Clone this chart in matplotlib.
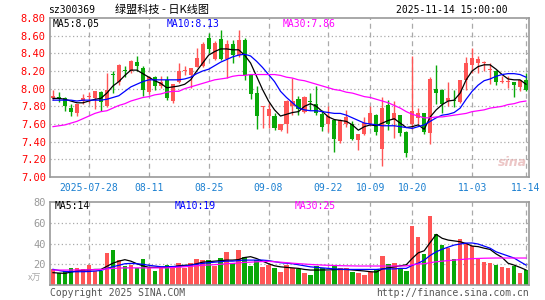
import matplotlib
matplotlib.use('Agg')
import matplotlib.pyplot as plt
import numpy as np

plt.rcParams['font.family'] = ['DejaVu Sans Mono', 'Noto Sans CJK SC']

# daily OHLC, 2025-07-18 .. 2025-11-14
opens = [7.89, 7.90, 7.90, 7.78, 7.72, 7.86, 7.91, 7.90, 7.96, 7.80,
         8.16, 8.07, 8.21, 8.20, 8.30, 8.23, 7.96, 8.13, 8.03, 8.10,
         7.86, 8.08, 8.20, 8.16, 8.25, 8.26, 8.57, 8.34, 8.56, 8.34,
         8.51, 8.38, 8.55, 8.15, 7.95, 7.79, 7.69, 7.69, 7.53, 7.60,
         7.80, 7.88, 7.74, 7.86, 7.83, 7.71, 7.60, 7.65, 7.41, 7.60,
         7.60, 7.42, 7.49, 7.60, 7.70, 7.32, 7.81, 7.64, 7.70, 7.51,
         7.60, 7.67, 7.72, 7.50, 8.00, 7.99, 7.86, 7.87, 7.85, 8.10,
         8.27, 8.29, 8.29, 8.21, 8.20, 8.08, 8.08, 8.07, 8.02, 8.10]
highs = [7.99, 7.96, 7.91, 7.83, 7.83, 7.94, 7.96, 7.97, 7.97, 8.18,
         8.20, 8.28, 8.26, 8.33, 8.37, 8.26, 8.14, 8.14, 8.14, 8.14,
         8.05, 8.29, 8.26, 8.23, 8.46, 8.53, 8.63, 8.54, 8.66, 8.55,
         8.55, 8.66, 8.57, 8.16, 8.03, 7.80, 7.84, 7.72, 7.60, 7.87,
         8.12, 7.92, 7.92, 7.95, 8.03, 7.76, 7.80, 7.66, 7.66, 7.76,
         7.63, 7.49, 7.68, 7.80, 7.71, 7.91, 7.87, 7.86, 7.70, 7.52,
         8.37, 7.78, 7.73, 8.13, 8.27, 8.00, 8.07, 7.99, 8.10, 8.36,
         8.46, 8.37, 8.31, 8.29, 8.21, 8.14, 8.14, 8.08, 8.10, 8.18]
lows = [7.87, 7.85, 7.75, 7.69, 7.69, 7.83, 7.84, 7.77, 7.75, 7.79,
        7.95, 8.04, 8.13, 8.18, 8.20, 7.92, 7.94, 7.98, 8.01, 7.87,
        7.84, 8.06, 8.15, 8.01, 8.25, 8.25, 8.40, 8.32, 8.33, 8.12,
        8.29, 8.36, 8.10, 7.88, 7.54, 7.56, 7.55, 7.53, 7.52, 7.50,
        7.70, 7.70, 7.73, 7.76, 7.70, 7.52, 7.51, 7.28, 7.38, 7.57,
        7.42, 7.31, 7.48, 7.58, 7.47, 7.13, 7.53, 7.44, 7.46, 7.23,
        7.54, 7.60, 7.49, 7.37, 7.83, 7.72, 7.80, 7.79, 7.84, 7.99,
        8.18, 8.18, 8.20, 8.05, 8.04, 8.06, 8.01, 7.91, 7.97, 7.97]
closes = [7.92, 7.89, 7.80, 7.74, 7.83, 7.90, 7.92, 7.97, 7.85, 7.99,
          8.15, 8.27, 8.20, 8.31, 8.26, 7.98, 8.13, 8.03, 8.07, 7.89,
          8.05, 8.20, 8.21, 8.23, 8.35, 8.51, 8.45, 8.52, 8.34, 8.51,
          8.38, 8.55, 8.16, 7.94, 7.69, 7.80, 7.77, 7.55, 7.60, 7.86,
          7.86, 7.77, 7.90, 7.85, 7.73, 7.57, 7.69, 7.43, 7.65, 7.68,
          7.43, 7.49, 7.61, 7.72, 7.51, 7.78, 7.60, 7.72, 7.50, 7.27,
          7.75, 7.72, 7.51, 8.11, 7.95, 7.83, 7.90, 7.86, 8.10, 8.29,
          8.35, 8.34, 8.30, 8.22, 8.08, 8.09, 8.09, 8.04, 8.10, 7.98]

ma5 = [7.89, 7.89, 7.88, 7.86, 7.84, 7.84, 7.86, 7.88, 7.89, 7.95,
       8.03, 8.08, 8.15, 8.21, 8.21, 8.17, 8.13, 8.09, 8.06, 8.01,
       8.02, 8.03, 8.05, 8.10, 8.20, 8.29, 8.38, 8.42, 8.45, 8.45,
       8.44, 8.44, 8.38, 8.29, 8.14, 7.99, 7.86, 7.76, 7.69, 7.71,
       7.73, 7.74, 7.80, 7.83, 7.80, 7.74, 7.68, 7.65, 7.64, 7.63,
       7.59, 7.53, 7.57, 7.59, 7.58, 7.61, 7.64, 7.66, 7.61, 7.56,
       7.57, 7.59, 7.54, 7.68, 7.76, 7.82, 7.86, 7.87, 7.95, 8.10,
       8.20, 8.25, 8.27, 8.27, 8.22, 8.16, 8.11, 8.10, 8.10, 8.05]
ma10 = [7.87, 7.87, 7.87, 7.87, 7.86, 7.87, 7.87, 7.87, 7.87, 7.88,
        7.90, 7.92, 7.97, 8.02, 8.05, 8.08, 8.10, 8.10, 8.10, 8.10,
        8.10, 8.10, 8.11, 8.13, 8.17, 8.20, 8.22, 8.26, 8.30, 8.33,
        8.36, 8.38, 8.39, 8.37, 8.31, 8.24, 8.16, 8.08, 7.97, 7.90,
        7.84, 7.78, 7.76, 7.75, 7.75, 7.74, 7.73, 7.72, 7.72, 7.70,
        7.67, 7.64, 7.61, 7.60, 7.59, 7.58, 7.58, 7.58, 7.57, 7.56,
        7.55, 7.57, 7.59, 7.63, 7.67, 7.70, 7.71, 7.73, 7.78, 7.88,
        7.97, 8.04, 8.09, 8.11, 8.14, 8.16, 8.17, 8.17, 8.16, 8.13]
ma30 = [7.57, 7.58, 7.59, 7.61, 7.63, 7.66, 7.69, 7.72, 7.74, 7.75,
        7.78, 7.81, 7.83, 7.86, 7.88, 7.90, 7.91, 7.93, 7.94, 7.96,
        7.97, 7.97, 8.00, 8.02, 8.04, 8.06, 8.08, 8.10, 8.11, 8.12,
        8.14, 8.15, 8.15, 8.16, 8.16, 8.16, 8.16, 8.16, 8.15, 8.13,
        8.12, 8.10, 8.09, 8.07, 8.05, 8.03, 8.01, 7.99, 7.98, 7.96,
        7.95, 7.93, 7.91, 7.90, 7.88, 7.86, 7.84, 7.81, 7.78, 7.74,
        7.71, 7.69, 7.67, 7.67, 7.68, 7.68, 7.69, 7.70, 7.71, 7.72,
        7.74, 7.75, 7.76, 7.78, 7.79, 7.80, 7.82, 7.83, 7.85, 7.86]

# volume in 10k lots
volume = [15.1, 11.2, 13.8, 16.7, 16.0, 15.1, 19.2, 13.8, 13.8, 30.8,
          33.7, 24.0, 18.3, 19.2, 16.0, 25.0, 16.0, 13.5, 17.0, 19.2,
          16.0, 20.8, 16.0, 20.8, 25.0, 24.0, 24.0, 18.3, 26.0, 32.1,
          20.8, 33.7, 27.3, 18.3, 24.0, 17.6, 19.2, 16.7, 12.8, 19.2,
          16.0, 15.1, 11.9, 9.6, 18.3, 16.7, 13.8, 18.6, 16.0, 16.0,
          12.8, 11.9, 9.6, 12.8, 15.1, 27.9, 20.2, 21.5, 16.0, 13.8,
          57.1, 46.5, 29.8, 66.7, 48.8, 38.5, 35.9, 25.0, 44.3, 40.7,
          37.5, 26.3, 22.4, 21.5, 19.2, 17.0, 16.0, 18.3, 11.2, 14.4]
vol_ma5 = [11.9, 11.5, 11.2, 12.5, 13.5, 14.2, 14.5, 15.0, 15.0, 18.0,
           21.0, 23.0, 24.4, 23.0, 20.5, 18.5, 17.0, 17.0, 17.0, 17.0,
           17.5, 18.5, 19.0, 19.2, 20.5, 22.0, 22.5, 23.0, 23.5, 24.0,
           24.0, 24.5, 26.5, 27.3, 25.5, 23.0, 20.5, 18.5, 17.5, 17.0,
           16.5, 16.0, 15.0, 14.4, 14.4, 14.5, 14.5, 14.8, 15.0, 15.0,
           14.5, 14.0, 13.5, 12.8, 12.5, 15.5, 16.5, 17.5, 18.5, 19.5,
           25.6, 31.0, 33.0, 41.0, 48.8, 45.0, 43.3, 42.5, 41.7, 40.0,
           37.5, 37.0, 35.5, 34.3, 30.0, 26.6, 21.0, 19.2, 17.0, 14.5]
vol_ma10 = [15.1, 14.0, 13.0, 12.8, 12.8, 12.8, 13.0, 13.5, 14.0, 16.0,
            17.6, 19.0, 20.5, 20.8, 20.5, 20.0, 19.0, 18.3, 17.6, 17.6,
            17.8, 18.0, 18.3, 19.0, 20.0, 20.8, 21.5, 22.0, 22.5, 23.0,
            23.0, 23.5, 24.0, 24.0, 24.0, 24.0, 23.5, 22.5, 21.5, 21.0,
            20.5, 19.5, 18.5, 17.5, 17.0, 16.5, 16.0, 15.5, 15.2, 15.0,
            15.0, 15.0, 15.0, 15.0, 15.0, 15.5, 15.5, 15.5, 16.0, 16.0,
            19.0, 21.0, 24.0, 28.5, 32.0, 34.5, 36.5, 38.5, 39.5, 40.4,
            40.5, 39.5, 37.5, 35.5, 32.0, 30.0, 28.0, 26.0, 22.5, 19.2]
vol_ma30 = [14.4, 14.4, 14.4, 14.4, 14.5, 14.5, 14.6, 14.8, 15.0, 15.5,
            16.0, 16.3, 16.5, 16.5, 16.5, 16.5, 16.5, 16.5, 16.5, 16.5,
            16.8, 17.2, 17.6, 18.0, 18.5, 19.0, 19.3, 19.6, 20.0, 20.5,
            20.8, 21.3, 21.8, 22.0, 22.4, 22.6, 22.8, 22.4, 22.0, 21.5,
            21.0, 20.6, 20.2, 19.8, 19.5, 19.2, 19.0, 18.8, 18.6, 18.5,
            18.4, 18.3, 18.3, 18.3, 18.3, 18.3, 18.3, 18.3, 18.3, 18.4,
            19.5, 20.2, 20.5, 21.5, 22.4, 23.0, 23.5, 24.0, 24.5, 25.0,
            25.4, 25.6, 25.8, 25.9, 26.0, 26.0, 26.0, 26.0, 26.0, 26.0]

date_idx = [6, 16, 26, 36, 46, 53, 60, 70, 79]
date_labels = ['2025-07-28', '08-11', '08-25', '09-08', '09-22',
               '10-09', '10-20', '11-03', '11-14']
price_ticks = [7.00, 7.20, 7.40, 7.60, 7.80, 8.00, 8.20, 8.40, 8.60, 8.80]
vol_ticks = [20, 40, 60, 80]

RED = '#ff5555'
GREEN = '#08a808'
BORDER = '#999999'
GRID = '#aaaaaa'

W, H = 545, 300
fig = plt.figure(figsize=(W / 100, H / 100), dpi=100)
fig.patch.set_facecolor('white')


def box(l, t, r, b):
    return [l / W, 1 - b / H, (r - l) / W, (b - t) / H]


def ftext(x, y, s, **kw):
    fig.text(x / W, 1 - y / H, s, **kw)


x = np.arange(len(closes))
o = np.array(opens)
c = np.array(closes)
up = c >= o
cols = np.where(up, RED, GREEN)

# ---- price panel
ax = fig.add_axes(box(50, 18, 529, 177))
ax.set_xlim(-0.5, len(x) - 0.5)
ax.set_ylim(7.0, 8.8)
for yv in price_ticks[1:-1]:
    ax.axhline(yv, color=GRID, lw=0.9, ls=(0, (1, 2)), zorder=0)
for xi in date_idx:
    ax.axvline(xi, color=GRID, lw=0.9, ls=(0, (4, 3)), zorder=0)

ax.vlines(x, lows, highs, colors=cols, lw=1, zorder=2)
body_h = np.maximum(np.abs(c - o), 0.012)
ax.bar(x, body_h, bottom=np.minimum(o, c), width=0.68, color=cols,
       lw=0, zorder=3)
ax.plot(x, ma5, color='black', lw=0.9, zorder=4)
ax.plot(x, ma10, color='#0000ff', lw=0.9, zorder=4)
ax.plot(x, ma30, color='#ff00ff', lw=0.9, zorder=4)

ax.set_yticks(price_ticks)
ax.set_yticklabels(['%.2f' % v for v in price_ticks], color='#ff0000',
                   fontsize=7.5)
ax.set_xticks(date_idx)
ax.set_xticklabels(date_labels, color='#1a7fd0', fontsize=7)
ax.tick_params(length=0, pad=3)
ax.tick_params(axis='x', pad=4)
for s in ax.spines.values():
    s.set_color(BORDER)
    s.set_linewidth(1.2)

ax.text(0.5, 0.04, 'sina', transform=ax.transData, alpha=0)
ftext(498, 166, 'sina', color='#e8b8b8', fontsize=9, style='italic',
      fontweight='bold', family='DejaVu Sans', alpha=0.8)

ftext(53, 24, 'MA5:8.05', color='black', fontsize=7, va='center')
ftext(167, 24, 'MA10:8.13', color='#0000ff', fontsize=7, va='center')
ftext(283, 24, 'MA30:7.86', color='#ff00ff', fontsize=7, va='center')

# ---- volume panel
av = fig.add_axes(box(50, 202, 529, 285))
av.set_xlim(-0.5, len(x) - 0.5)
av.set_ylim(0, 80)
for yv in vol_ticks[:-1]:
    av.axhline(yv, color=GRID, lw=0.9, ls=(0, (1, 2)), zorder=0)
for xi in date_idx:
    av.axvline(xi, color=GRID, lw=0.9, ls=(0, (4, 3)), zorder=0)
av.bar(x, volume, width=0.75, color=cols, lw=0, zorder=2)
av.plot(x, vol_ma5, color='black', lw=0.9, zorder=3)
av.plot(x, vol_ma10, color='#0000ff', lw=0.9, zorder=3)
av.plot(x, vol_ma30, color='#ff00ff', lw=0.9, zorder=3)
av.set_yticks(vol_ticks)
av.set_yticklabels([str(v) for v in vol_ticks], color='#999999', fontsize=7.5)
av.set_xticks([])
av.tick_params(length=0, pad=3)
for s in av.spines.values():
    s.set_color(BORDER)
    s.set_linewidth(1.2)

ftext(55, 206, 'MA5:14', color='black', fontsize=7, va='center')
ftext(175, 206, 'MA10:19', color='#0000ff', fontsize=7, va='center')
ftext(295, 206, 'MA30:25', color='#ff00ff', fontsize=7, va='center')
ftext(28, 278, 'x万', color='#aaaaaa', fontsize=6.5, va='center',
      family=['Noto Sans CJK SC', 'DejaVu Sans'])

# ---- header / footer
ftext(48, 10, 'sz300369', color='black', fontsize=7, va='center')
ftext(115, 10, '绿盟科技 - 日K线图', color='black', fontsize=8, va='center',
      family=['Noto Sans CJK SC', 'DejaVu Sans'])
ftext(508, 10, '2025-11-14 15:00:00', color='black', fontsize=7,
      va='center', ha='right')
ftext(50, 293, 'Copyright 2025 SINA.COM', color='#555555', fontsize=7,
      va='center')
ftext(529, 293, 'http://finance.sina.com.cn', color='#555555', fontsize=7,
      va='center', ha='right')

fig.savefig('out.png', dpi=100, facecolor='white')
